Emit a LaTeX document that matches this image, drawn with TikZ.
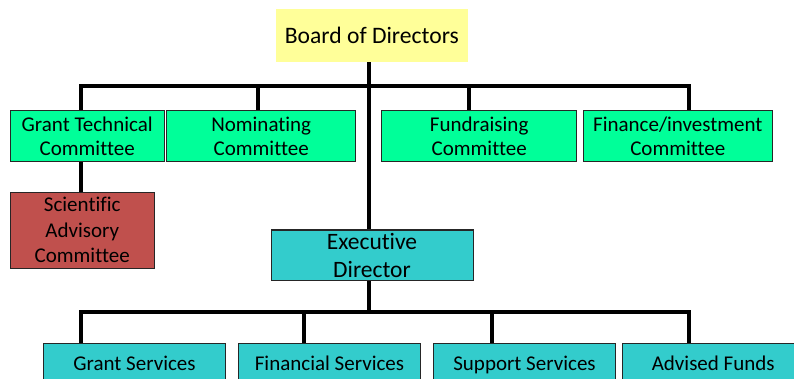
\documentclass[tikz,border=0pt]{standalone}
\usepackage{fontspec}
\setmainfont{Carlito}[Ligatures=NoCommon]
\usepackage{tikz}
\usetikzlibrary{calc}
\definecolor{boardyellow}{HTML}{FFFF99}
\definecolor{comgreen}{HTML}{00FF99}
\definecolor{execcyan}{HTML}{33CCCC}
\definecolor{scired}{HTML}{C0504D}
\tikzstyle{line} = [draw, line width=4pt, line join=miter]
\tikzstyle{board} = [fill=boardyellow, rectangle, align=center, inner sep=0pt, font=\fontsize{23.6}{28}\selectfont]
\tikzstyle{committee} = [draw=black!85, line width=1pt, fill=comgreen, rectangle, align=center, inner sep=0pt, minimum height=51pt, font=\fontsize{21}{24}\selectfont]
\tikzstyle{advisory} = [committee, fill=scired, minimum height=76pt, font=\fontsize{21}{25.5}\selectfont]
\tikzstyle{director} = [committee, fill=execcyan, minimum height=50.7pt, font=\fontsize{23.5}{28}\selectfont]
\tikzstyle{service} = [committee, fill=execcyan, minimum width=182.4pt, minimum height=40pt, text height=15pt, text depth=1.6pt]

\begin{document}
\begin{tikzpicture}[x=1pt, y=-1pt]
        \useasboundingbox (0,0) rectangle (794,379);
        \clip (0,0) rectangle (794,379);
        \node[board, minimum width=191.7pt, minimum height=53pt] (board) at (371.85,35.5) {Board of Directors};
        \node[committee, minimum width=153.7pt] (grant) at (87.2,136.2) {Grant Technical\\Committee};
        \node[committee, minimum width=189pt] (nominating) at (261.2,136.2) {Nominating\\Committee};
        \node[committee, minimum width=195pt] (fundraising) at (479.2,136.2) {Fundraising\\Committee};
        \node[committee, minimum width=189pt] (finance) at (677.8,136.2) {Finance/investment\\Committee};
        \node[advisory, minimum width=143.7pt] (scientific) at (82.2,230.3) {Scientific\\Advisory\\Committee};
        \node[director, minimum width=202pt] (exec) at (372,255.35) {Executive\\Director};
        \node[service] (grantsrv) at (134.5,363.3) {Grant Services};
        \node[service] (finsrv) at (329.5,363.3) {Financial Services};
        \node[service] (supsrv) at (524.5,363.3) {Support Services};
        \node[service] (funds) at (713.2,363.3) {Advised Funds};
        % committee bus
        \coordinate (topl) at (81,86);
        \coordinate (topr) at (688.5,86);
        \coordinate (nomdrop) at (257.7,86);
        \coordinate (funddrop) at (469,86);
        \coordinate (spine) at (369,86);
        \path[line] (topl |- grant.north) -- (topl) -- (topr) -- (topr |- finance.north);
        \path[line] (nomdrop) -- (nomdrop |- nominating.north);
        \path[line] (funddrop) -- (funddrop |- fundraising.north);
        \path[line] (spine |- board.south) -- (spine |- exec.north);
        \path[line] (topl |- grant.south) -- (topl |- scientific.north);
        % services bus
        \coordinate (botl) at (81,311.7);
        \coordinate (botr) at (688.5,311.7);
        \coordinate (findrop) at (303.7,311.7);
        \coordinate (supdrop) at (492,311.7);
        \path[line] (spine |- exec.south) -- (spine |- botl);
        \path[line] (botl |- grantsrv.north) -- (botl) -- (botr) -- (botr |- funds.north);
        \path[line] (findrop) -- (findrop |- finsrv.north);
        \path[line] (supdrop) -- (supdrop |- supsrv.north);
    \end{tikzpicture}
\end{document}
